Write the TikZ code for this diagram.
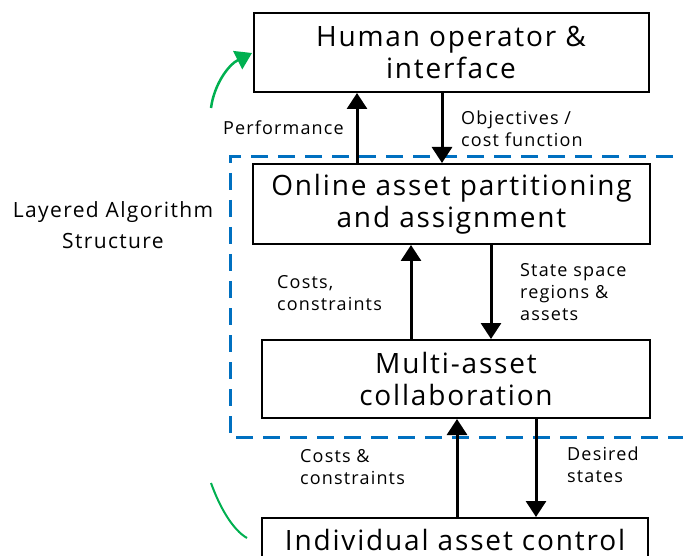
\documentclass[tikz,border=0pt]{standalone}
\usepackage{fontspec}
\setmainfont{Open Sans}[LetterSpace=6.5]
\usetikzlibrary{arrows.meta}
\definecolor{dblue}{RGB}{0,112,192}
\definecolor{dgreen}{RGB}{0,176,80}
\begin{document}
\begin{tikzpicture}[x=1pt,y=-1pt,
  boxn/.style={draw=black,line width=2pt,inner sep=0pt,align=center,font=\fontsize{28}{32}\selectfont},
  lbl/.style={inner sep=0pt,anchor=west,align=left,font=\fontsize{18}{22}\selectfont},
  arr/.style={line width=3pt,-{Triangle[width=20pt,length=16pt]}},
  gr/.style={dgreen,line width=2pt}]
\useasboundingbox (0,0) rectangle (683,556);
\clip (0,0) rectangle (683,556);
% dashed layer frame
\draw[dblue,line width=3pt,dash pattern=on 17pt off 10pt] (700,157) -- (230,157) -- (230,437) -- (700,437);
% boxes
\node[boxn,minimum width=395pt,minimum height=79pt] (human) at (451,52.5) {Human operator \&\\interface};
\node[boxn,minimum width=397pt,minimum height=80pt] (online) at (451.5,204) {Online asset partitioning\\and assignment};
\node[boxn,minimum width=388pt,minimum height=78pt] (multi) at (456,379) {Multi-asset\\collaboration};
\node[boxn,minimum width=386pt,minimum height=80pt,anchor=north] (indiv) at (455,517) {};
\node[font=\fontsize{28}{32}\selectfont,inner sep=0pt] (indivt) at (455,540) {Individual asset control};
% x positions of connectors
\coordinate (c1) at (357,0);
\coordinate (c2) at (442,0);
\coordinate (c3) at (411,0);
\coordinate (c4) at (491,0);
\coordinate (c5) at (457,0);
\coordinate (c6) at (536,0);
\draw[arr] (online.north -| c1) -- (human.south -| c1);
\draw[arr] (human.south -| c2) -- (online.north -| c2);
\draw[arr] (multi.north -| c3) -- (online.south -| c3);
\draw[arr] (online.south -| c4) -- (multi.north -| c4);
\draw[arr] (indiv.north -| c5) -- (multi.south -| c5);
\draw[arr] (multi.south -| c6) -- (indiv.north -| c6);
% labels
\node[lbl,anchor=east] (lperf) at (344,128) {Performance};
\node[lbl] (lobj) at (461,129) {Objectives /\\cost function};
\node[lbl] (lcost1) at (277,293) {Costs,\\constraints};
\node[lbl] (lstate) at (520,292) {State space\\regions \&\\assets};
\node[lbl] (lcost2) at (300,467) {Costs \&\\constraints};
\node[lbl] (ldes) at (567,465) {Desired\\states};
\node[inner sep=0pt,align=center,font=\fontsize{21}{31}\selectfont] (layer) at (113,225) {Layered Algorithm\\Structure};
% green curves
\coordinate (g1) at (211,108);
\coordinate (g2) at (252,53);
\draw[gr,line width=2.5pt,-{Triangle[width=20pt,length=16pt]}] (g1) .. controls (214,85) and (228,65) .. (g2);
\coordinate (g3) at (211,483);
\coordinate (g4) at (247,538);
\draw[gr] (g3) .. controls (220,508) and (233,530) .. (g4);
\end{tikzpicture}
\end{document}
